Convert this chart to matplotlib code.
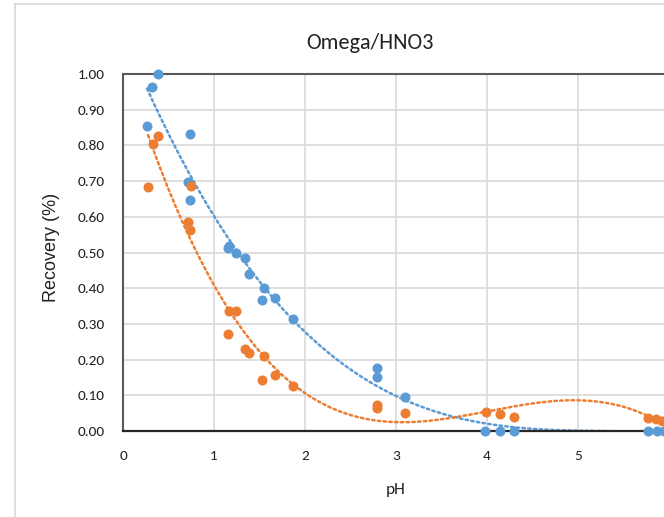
import numpy as np
import matplotlib
matplotlib.use("Agg")
import matplotlib.pyplot as plt
from matplotlib.lines import Line2D
from matplotlib.ticker import FormatStrFormatter

title = "Omega/HNO3"
x_label = "pH"
y_label = "Recovery (%)"

blue_ph = [0.385, 0.32, 0.264, 0.736, 0.714, 0.736, 1.154, 1.17, 1.24, 1.34, 1.385,
           1.55, 1.53, 1.67, 1.87, 2.79, 2.79, 3.10, 3.98, 4.14, 4.30, 5.77, 5.87, 5.95]
blue_rec = [1.00, 0.964, 0.854, 0.832, 0.697, 0.647, 0.512, 0.518, 0.50, 0.484, 0.44,
            0.40, 0.367, 0.373, 0.314, 0.176, 0.151, 0.095, 0.0, 0.0, 0.0, 0.0, 0.0, 0.0]

orange_ph = [0.275, 0.326, 0.385, 0.747, 0.718, 0.736, 1.168, 1.24, 1.157, 1.34, 1.39,
             1.55, 1.53, 1.675, 1.865, 2.795, 2.795, 3.10, 3.985, 4.14, 4.30, 5.77, 5.86, 5.92]
orange_rec = [0.683, 0.803, 0.827, 0.686, 0.585, 0.563, 0.336, 0.336, 0.272, 0.23, 0.219,
              0.211, 0.143, 0.157, 0.127, 0.073, 0.064, 0.051, 0.054, 0.048, 0.040, 0.037, 0.033, 0.029]

x_ticks = [0, 1, 2, 3, 4, 5]
y_ticks = [0.0, 0.1, 0.2, 0.3, 0.4, 0.5, 0.6, 0.7, 0.8, 0.9, 1.0]

BLUE = "#5B9BD5"
ORANGE = "#ED7D31"
FONT = ["Carlito", "Lato", "DejaVu Sans"]

fig = plt.figure(figsize=(6.64, 5.17), dpi=100)
W, H = 664, 517
ax = fig.add_axes([123 / W, 1 - 431 / H, 546 / W, (431 - 74) / H])

# chart-area border (partially visible)
fig.add_artist(Line2D([15 / W, 15 / W], [0, 1 - 4 / H], transform=fig.transFigure,
                      color="#d9d9d9", lw=1.2))
fig.add_artist(Line2D([15 / W, 1], [1 - 4 / H, 1 - 4 / H], transform=fig.transFigure,
                      color="#d9d9d9", lw=1.2))

ax.set_xlim(0, 6)
ax.set_ylim(0, 1.0)
ax.set_xticks(x_ticks)
ax.set_yticks(y_ticks)
ax.yaxis.set_major_formatter(FormatStrFormatter("%.2f"))
ax.grid(True, color="#d9d9d9", lw=1.2)
ax.set_axisbelow(True)
ax.tick_params(length=0, labelsize=11)
ax.tick_params(axis="y", pad=13)
ax.tick_params(axis="x", pad=14)
for lab in ax.get_xticklabels() + ax.get_yticklabels():
    lab.set_fontfamily(FONT)
    lab.set_color("#222222")

for side in ["left", "top"]:
    ax.spines[side].set_color("#595959")
    ax.spines[side].set_linewidth(1.5)
ax.spines["bottom"].set_color("#262626")
ax.spines["bottom"].set_linewidth(1.6)
ax.spines["right"].set_visible(False)

# trendlines (polynomial fits)
def trend(xs, ys, deg):
    c = np.polyfit(xs, ys, deg)
    xx = np.linspace(min(xs), max(xs), 300)
    return xx, np.polyval(c, xx)

bx, by = trend(blue_ph, blue_rec, 3)
ox, oy = trend(orange_ph, orange_rec, 3)
ax.plot(bx, by, color=BLUE, lw=1.8, linestyle=(0, (1, 1.3)), dash_capstyle="round", zorder=2)
ax.plot(ox, oy, color=ORANGE, lw=1.8, linestyle=(0, (1, 1.3)), dash_capstyle="round", zorder=2)

ax.scatter(blue_ph, blue_rec, s=52, color=BLUE, zorder=3, clip_on=False, linewidths=0)
ax.scatter(orange_ph, orange_rec, s=52, color=ORANGE, zorder=3, clip_on=False, linewidths=0)

fig.text(370 / W, 1 - 43 / H, title, ha="center", va="center", fontsize=16,
         family=FONT, color="#222222")
fig.text(396 / W, 1 - 490 / H, x_label, ha="center", va="center", fontsize=12.5,
         family=FONT, color="#222222")
fig.text(51 / W, 1 - 247 / H, y_label, ha="center", va="center", fontsize=13,
         family="Liberation Sans", rotation=90, color="#222222")

fig.savefig("out.png", dpi=100)
